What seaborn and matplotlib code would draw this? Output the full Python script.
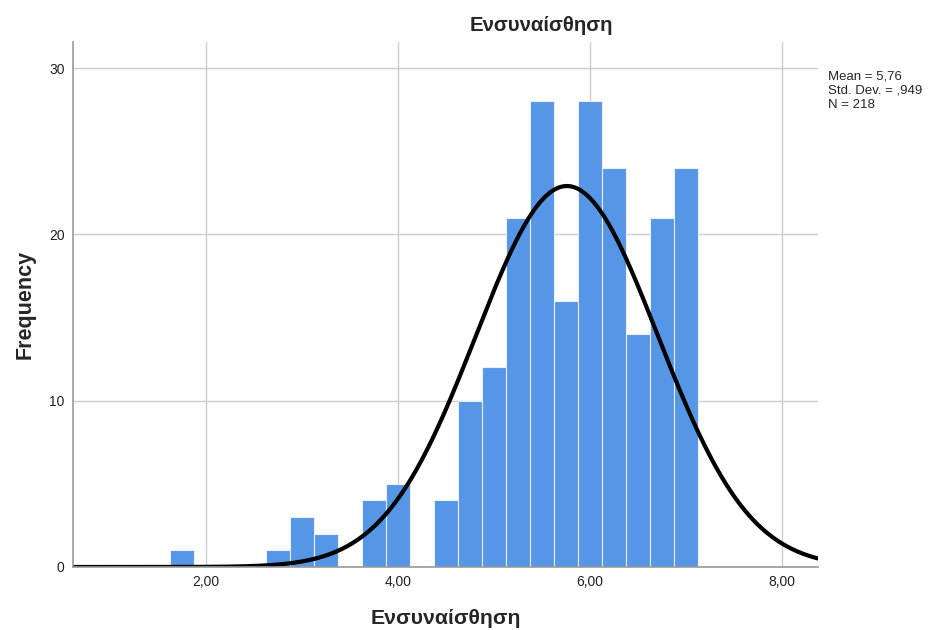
import numpy as np
import pandas as pd
import matplotlib
matplotlib.use("Agg")
import matplotlib.pyplot as plt
import seaborn as sns

# histogram bins (bin centres) and counts
bin_centers = [1.75, 2.75, 3.0, 3.25, 3.75, 4.0, 4.5, 4.75, 5.0, 5.25,
               5.5, 5.75, 6.0, 6.25, 6.5, 6.75, 7.0]
counts = [1, 1, 3, 2, 4, 5, 4, 10, 12, 21, 28, 16, 28, 24, 14, 21, 24]
bin_width = 0.25

# summary stats shown on the chart
mean_val = 5.76
sd_val = 0.949
n_val = 218

x_ticks = [2, 4, 6, 8]
x_tick_labels = ["2,00", "4,00", "6,00", "8,00"]
y_ticks = [0, 10, 20, 30]

sns.set_style("white")
plt.rcParams['font.family'] = ['Liberation Sans', 'DejaVu Sans']

fig = plt.figure(figsize=(9.3, 6.3), dpi=100)
ax = fig.add_axes([0.0785, 0.1, 0.801, 0.833])

df = pd.DataFrame({"x": bin_centers, "w": counts})
sns.histplot(data=df, x="x", weights="w", binwidth=bin_width, binrange=(0.625, 7.125),
             ax=ax, color="#5596E6", alpha=1, edgecolor="#E8F0FA", linewidth=0.8)

# fitted normal curve
xs = np.linspace(0.615, 8.375, 400)
ys = n_val * bin_width / (sd_val * np.sqrt(2 * np.pi)) * np.exp(-0.5 * ((xs - mean_val) / sd_val) ** 2)
sns.lineplot(x=xs, y=ys, ax=ax, color="black", linewidth=3)

ax.set_xlim(0.615, 8.375)
ax.set_ylim(0, 31.56)
ax.set_xticks(x_ticks)
ax.set_xticklabels(x_tick_labels)
ax.set_yticks(y_ticks)
ax.tick_params(axis="both", length=0, labelsize=10, pad=6, colors="#222222")

ax.grid(True, color="#CCCCCC", linewidth=1)
ax.set_axisbelow(True)
for s in ["top", "right"]:
    ax.spines[s].set_visible(False)
for s in ["left", "bottom"]:
    ax.spines[s].set_color("#999999")
    ax.spines[s].set_linewidth(1.2)

ax.set_xlabel("Ενσυναίσθηση", fontsize=15.3, fontweight="bold", labelpad=14)
ax.set_ylabel("Frequency", fontsize=15.5, fontweight="bold", labelpad=10)

fig.text(0.582, 0.96, "Ενσυναίσθηση", ha="center", va="center",
         fontsize=14.7, fontweight="bold")
fig.text(0.89, 0.888, f"Mean = 5,76\nStd. Dev. = ,949\nN = {n_val}",
         ha="left", va="top", fontsize=9.5, linespacing=1.25)

plt.savefig("out.png", dpi=100)
